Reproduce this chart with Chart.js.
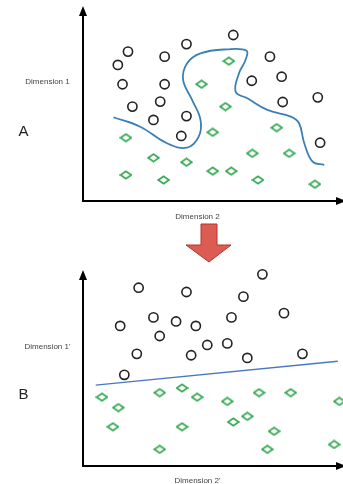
<!DOCTYPE html>
<html>
<head>
<meta charset="utf-8">
<script src="https://cdn.jsdelivr.net/npm/chart.js@4"></script>
<style>
  html, body { margin: 0; padding: 0; background: #fff; }
  #wrap { position: relative; width: 343px; height: 484px; overflow: hidden; font-family: "Liberation Sans", Arial, sans-serif; }
  canvas { position: absolute; left: 0; }
  #chartA { top: 0; }
  #chartB { top: 262px; }
  .lbl { position: absolute; transform: translate(-50%, -50%); white-space: nowrap; color: #444; font-size: 8px; }
  .big { font-size: 15px; color: #222; }
  #arrow { position: absolute; left: 0; top: 0; }
</style>
</head>
<body>
<div id="wrap">
  <canvas id="chartA" width="343" height="212"></canvas>
  <canvas id="chartB" width="343" height="212"></canvas>
  <svg id="arrow" width="343" height="484">
    <polygon points="201,224 217,224 217,245 231,245 209,262 186,245 201,245" fill="#dc5b53" stroke="#b5342c" stroke-width="1"/>
  </svg>
  <div class="lbl" style="left:47.5px;top:81px">Dimension 1</div>
  <div class="lbl big" style="left:23.5px;top:130px">A</div>
  <div class="lbl" style="left:197.5px;top:216px">Dimension 2</div>
  <div class="lbl" style="left:47.5px;top:346px">Dimension 1'</div>
  <div class="lbl big" style="left:23.5px;top:393px">B</div>
  <div class="lbl" style="left:197.5px;top:480px">Dimension 2'</div>
</div>
<script>
// Panel A: original space, classes separated by a wavy boundary
const circlesAX = [1.73, 1.34, 1.52, 1.90, 2.71, 2.97, 3.14, 3.14, 3.98, 3.98, 3.78, 5.78, 6.49, 7.19, 7.64, 7.68, 9.03, 9.12];
const circlesAY = [7.74, 7.05, 6.05, 4.89, 4.20, 5.15, 6.05, 7.48, 8.13, 4.40, 3.37, 8.60, 6.23, 7.48, 6.44, 5.13, 5.37, 3.02];
const diamondsAX = [5.61, 4.56, 5.48, 4.99, 1.65, 2.71, 3.98, 1.65, 3.10, 4.99, 5.70, 6.51, 7.45, 7.93, 6.73, 8.92];
const diamondsAY = [7.25, 6.05, 4.89, 3.56, 3.28, 2.24, 2.01, 1.35, 1.09, 1.55, 1.55, 2.47, 3.80, 2.47, 1.09, 0.87];
const boundaryAX = [1.17, 2.20, 3.23, 4.00, 4.45, 4.52, 4.20, 3.85, 4.00, 4.52, 5.55, 6.29, 6.25, 6.00, 5.87, 6.32, 7.09, 7.99, 8.31, 8.51, 8.83, 9.28];
const boundaryAY = [4.34, 3.85, 2.99, 2.76, 3.33, 4.20, 5.23, 6.27, 7.13, 7.65, 7.86, 7.79, 7.31, 6.62, 5.66, 5.32, 4.72, 4.37, 4.03, 2.99, 2.04, 1.87];

// Panel B: transformed space, a straight line separates the classes
const circlesBX = [2.14, 3.98, 6.17, 6.90, 7.73, 1.43, 2.71, 3.58, 4.34, 5.71, 2.95, 4.78, 5.55, 2.07, 4.16, 6.32, 8.44, 1.59];
const circlesBY = [9.19, 8.97, 8.73, 9.88, 7.88, 7.22, 7.66, 7.45, 7.22, 7.66, 6.70, 6.24, 6.32, 5.78, 5.71, 5.57, 5.78, 4.70];
const diamondsBX = [0.73, 1.36, 1.15, 2.95, 3.81, 4.39, 3.81, 2.95, 5.55, 6.77, 7.99, 5.78, 6.32, 7.35, 7.09, 9.86, 9.66];
const diamondsBY = [3.55, 3.01, 2.02, 3.78, 4.02, 3.55, 2.02, 0.86, 3.33, 3.78, 3.78, 2.27, 2.56, 1.79, 0.86, 3.33, 1.11];
const boundaryBX = [0.49, 9.80];
const boundaryBY = [4.17, 5.40];

const zip = (xs, ys) => xs.map((x, i) => ({ x: x, y: ys[i] }));

// squashed green diamond marker
const diamond = document.createElement('canvas');
diamond.width = 13;
diamond.height = 10;
const dctx = diamond.getContext('2d');
dctx.strokeStyle = '#35a853';
dctx.lineWidth = 1.6;
dctx.beginPath();
dctx.moveTo(1.2, 5);
dctx.lineTo(6.5, 1.3);
dctx.lineTo(11.8, 5);
dctx.lineTo(6.5, 8.7);
dctx.closePath();
dctx.stroke();

// axes with arrow heads
const arrowAxes = {
    id: 'arrowAxes',
    afterDraw(chart) {
        const { ctx, chartArea: a } = chart;
        ctx.save();
        ctx.strokeStyle = '#000';
        ctx.fillStyle = '#000';
        ctx.lineWidth = 2;
        ctx.beginPath();
        ctx.moveTo(a.left, a.top + 4);
        ctx.lineTo(a.left, a.bottom);
        ctx.lineTo(a.right - 4, a.bottom);
        ctx.stroke();
        ctx.beginPath();
        ctx.moveTo(a.left, a.top - 2);
        ctx.lineTo(a.left - 4, a.top + 8);
        ctx.lineTo(a.left + 4, a.top + 8);
        ctx.closePath();
        ctx.fill();
        ctx.beginPath();
        ctx.moveTo(a.right + 3, a.bottom);
        ctx.lineTo(a.right - 7, a.bottom - 4);
        ctx.lineTo(a.right - 7, a.bottom + 4);
        ctx.closePath();
        ctx.fill();
        ctx.restore();
    }
};

function makeChart(id, circles, diamonds, boundary, lineColor, lineWidth, tension, pad) {
    return new Chart(document.getElementById(id), {
        type: 'scatter',
        data: {
            datasets: [
                {
                    data: boundary,
                    showLine: true,
                    borderColor: lineColor,
                    borderWidth: lineWidth,
                    tension: tension,
                    pointRadius: 0,
                    clip: false
                },
                {
                    data: circles,
                    pointStyle: 'circle',
                    pointRadius: 4.6,
                    borderWidth: 1.6,
                    borderColor: '#222',
                    backgroundColor: 'rgba(255,255,255,0)',
                    clip: false
                },
                {
                    data: diamonds,
                    pointStyle: diamond,
                    pointRadius: 5,
                    clip: false
                }
            ]
        },
        options: {
            responsive: false,
            animation: false,
            devicePixelRatio: 1,
            layout: { padding: pad, autoPadding: false },
            plugins: { legend: { display: false }, tooltip: { enabled: false } },
            scales: {
                x: { display: false, min: 0, max: 10 },
                y: { display: false, min: 0, max: 10 }
            }
        },
        plugins: [arrowAxes]
    });
}

makeChart('chartA', zip(circlesAX, circlesAY), zip(diamondsAX, diamondsAY), zip(boundaryAX, boundaryAY),
    '#3a80b6', 1.8, 0.4, { left: 83, right: 0, top: 8, bottom: 11 });
makeChart('chartB', zip(circlesBX, circlesBY), zip(diamondsBX, diamondsBY), zip(boundaryBX, boundaryBY),
    '#4a78c0', 1.3, 0, { left: 83, right: 0, top: 10, bottom: 8 });
</script>
</body>
</html>
